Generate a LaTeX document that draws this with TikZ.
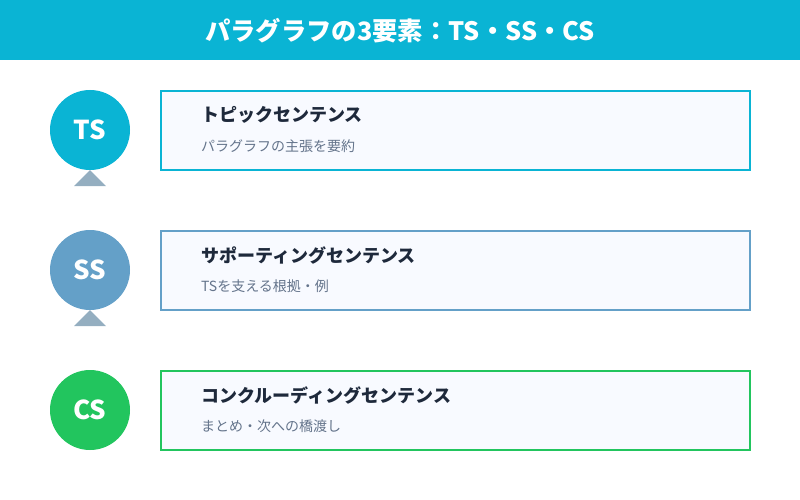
\documentclass[tikz,border=0pt]{standalone}
\usepackage{fontspec}
\setmainfont{Noto Sans CJK JP}
\usetikzlibrary{positioning}

\definecolor{headcyan}{HTML}{0AB4D4}
\definecolor{ssblue}{HTML}{64A0C8}
\definecolor{csgreen}{HTML}{22C55E}
\definecolor{pointergray}{HTML}{94AEC0}
\definecolor{boxfill}{HTML}{F8FAFF}
\definecolor{titleink}{HTML}{1E293B}
\definecolor{subink}{HTML}{64748B}

\tikzset{
  badge/.style={circle, minimum size=80pt, inner sep=0pt, text=white,
    font=\fontsize{26}{26}\selectfont\bfseries},
  partbox/.style={rectangle, fill=boxfill, line width=2pt,
    minimum width=589pt, minimum height=79pt},
  parttitle/.style={anchor=west, inner sep=0pt, text=titleink,
    font=\fontsize{18}{18}\selectfont\bfseries},
  partsub/.style={anchor=west, inner sep=0pt, text=subink,
    font=\fontsize{14}{14}\selectfont},
  pointer/.style={fill=pointergray},
  headtitle/.style={text=white, font=\fontsize{25.3}{25.3}\selectfont\bfseries}
}

\NewDocumentCommand{\partrow}{mmmmm}{%
\begin{scope}[shift={(0,#1)}]%
\node[partbox, draw=#2] (b#3) at (455.5,0.5) {};
\node[badge, fill=#2] (c#3) at (90,0) {#3};
\node[parttitle] (t#3) at (201,-15) {#4};
\node[partsub] (s#3) at (201,16) {#5};
\end{scope}%
}

\begin{document}
\begin{tikzpicture}[x=1pt, y=-1pt]
        \useasboundingbox (0,0) rectangle (800,500);
        % header
        \fill[headcyan] (0,0) rectangle (800,60);
        \node[headtitle] (head) at (400,31) {パラグラフの3要素：TS・SS・CS};

        % TS
        \partrow{130}{headcyan}{TS}{トピックセンテンス}{パラグラフの主張を要約}
        \fill[pointer] (cTS.south) -- ++(16,16) -- ++(-32,0) -- cycle;

        % SS
        \partrow{270}{ssblue}{SS}{サポーティングセンテンス}{TSを支える根拠・例}
        \fill[pointer] (cSS.south) -- ++(16,16) -- ++(-32,0) -- cycle;

        % CS
        \partrow{410}{csgreen}{CS}{コンクルーディングセンテンス}{まとめ・次への橋渡し}
    \end{tikzpicture}
\end{document}
